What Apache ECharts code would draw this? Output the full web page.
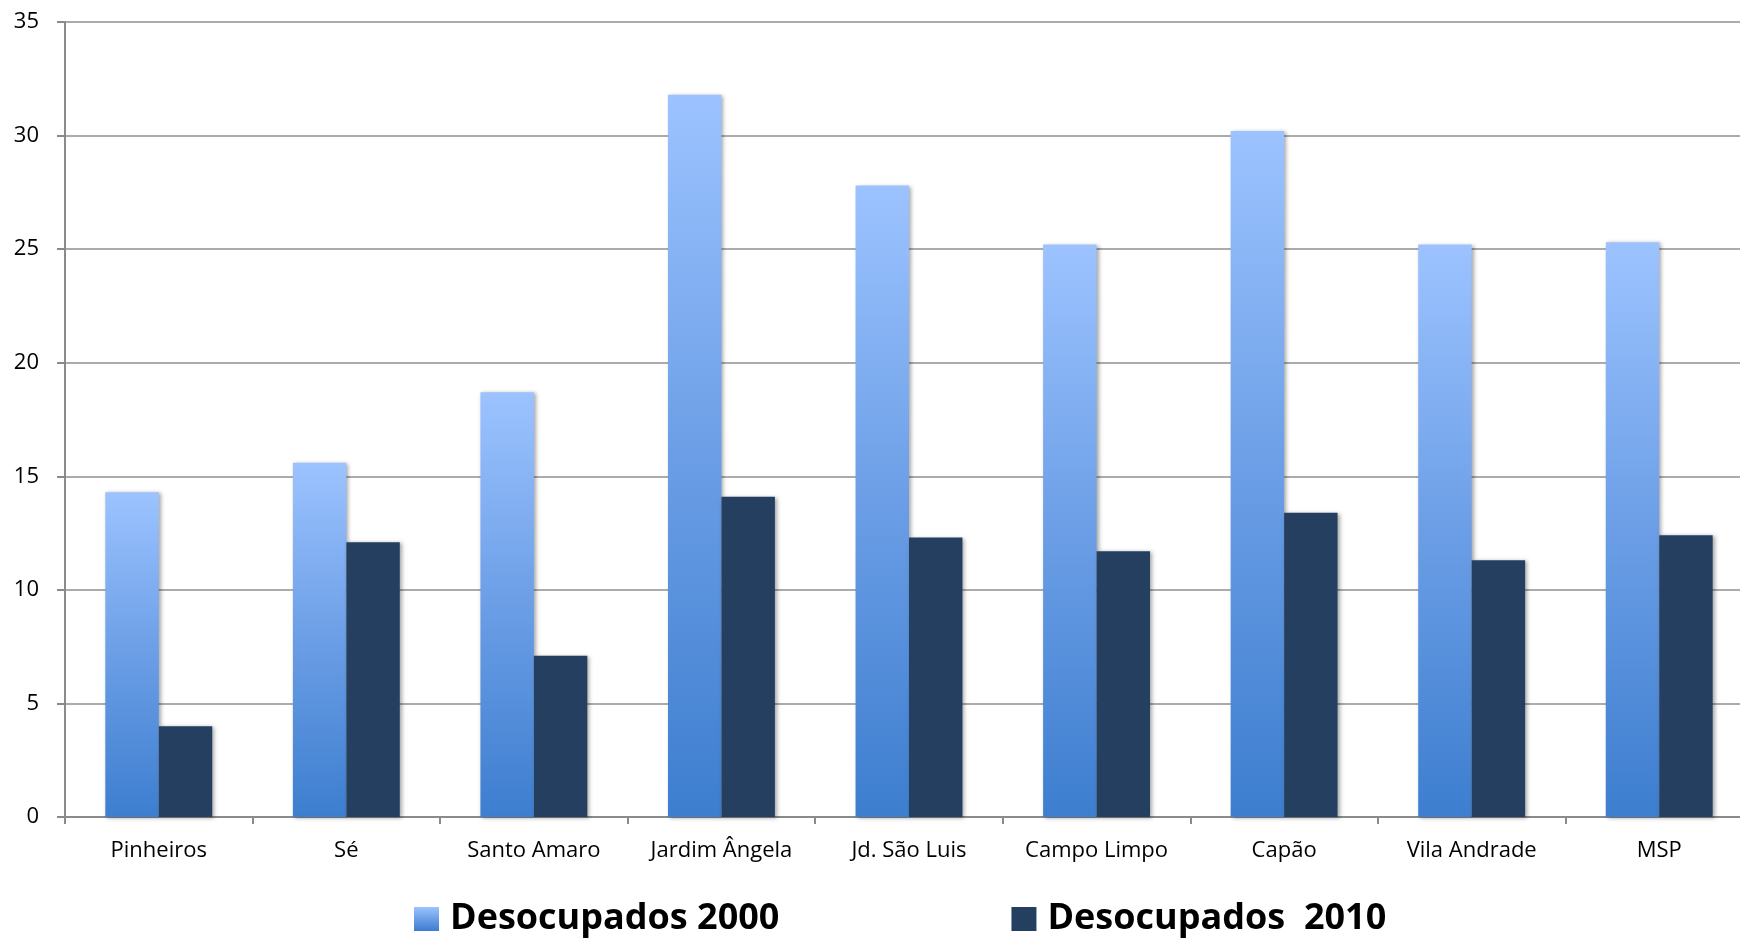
<!DOCTYPE html>
<html>
<head>
<meta charset="utf-8">
<script src="https://cdn.jsdelivr.net/npm/echarts@6/dist/echarts.min.js"></script>
<style>
html,body{margin:0;padding:0;background:#fff;}
#chart{width:1740px;height:938px;}
</style>
</head>
<body>
<div id="chart"></div>
<script>
const categories = ['Pinheiros','Sé','Santo Amaro','Jardim Ângela','Jd. São Luis','Campo Limpo','Capão','Vila Andrade','MSP'];
const seriesNames = ['Desocupados 2000','Desocupados  2010'];
const values2000 = [14.3, 15.6, 18.7, 31.8, 27.8, 25.2, 30.2, 25.2, 25.3];
const values2010 = [4.0, 12.1, 7.1, 14.1, 12.3, 11.7, 13.4, 11.3, 12.4];
const yTicks = [0, 5, 10, 15, 20, 25, 30, 35];

const chart = echarts.init(document.getElementById('chart'), null, {renderer:'canvas'});
const grad2000 = new echarts.graphic.LinearGradient(0,0,0,1,[
  {offset:0,color:'#9CC3FF'},
  {offset:0.5,color:'#6B9EE6'},
  {offset:1,color:'#3D7ECF'}
]);
const font = 'Open Sans, Noto Sans, sans-serif';
chart.setOption({
  animation:false,
  grid:{left:65,width:1688,top:22,height:795,containLabel:false,outerBoundsMode:'none'},
  legend:{
    data:seriesNames,
    top:896,
    left:409,
    icon:'rect',
    itemWidth:25,
    itemHeight:24,
    itemGap:232,
    textStyle:{fontSize:36,fontWeight:'bold',color:'#000',fontFamily:font,padding:[0,0,0,6]}
  },
  xAxis:{
    type:'category',
    data:categories,
    axisLine:{lineStyle:{color:'#8a8a8a',width:2}},
    axisTick:{show:true,length:7,lineStyle:{color:'#8a8a8a',width:2}},
    axisLabel:{fontSize:22,color:'#000',margin:23,fontFamily:font}
  },
  yAxis:{
    type:'value',
    min:yTicks[0],
    max:yTicks[yTicks.length-1],
    interval:5,
    axisLine:{show:true,lineStyle:{color:'#8a8a8a',width:2}},
    axisTick:{show:true,length:8,lineStyle:{color:'#8a8a8a',width:2}},
    splitLine:{lineStyle:{color:'#8f8f8f',width:1.5}},
    axisLabel:{fontSize:22,color:'#000',margin:26,fontFamily:font}
  },
  series:[
    {
      name:seriesNames[0],type:'bar',data:values2000,
      barGap:'0%',barCategoryGap:'43%',
      itemStyle:{color:grad2000,shadowColor:'rgba(0,0,0,0.35)',shadowBlur:4,shadowOffsetX:2,shadowOffsetY:1}
    },
    {
      name:seriesNames[1],type:'bar',data:values2010,
      barGap:'0%',barCategoryGap:'43%',
      itemStyle:{color:'#253F60',shadowColor:'rgba(0,0,0,0.35)',shadowBlur:4,shadowOffsetX:2,shadowOffsetY:1}
    }
  ]
});
</script>
</body>
</html>
